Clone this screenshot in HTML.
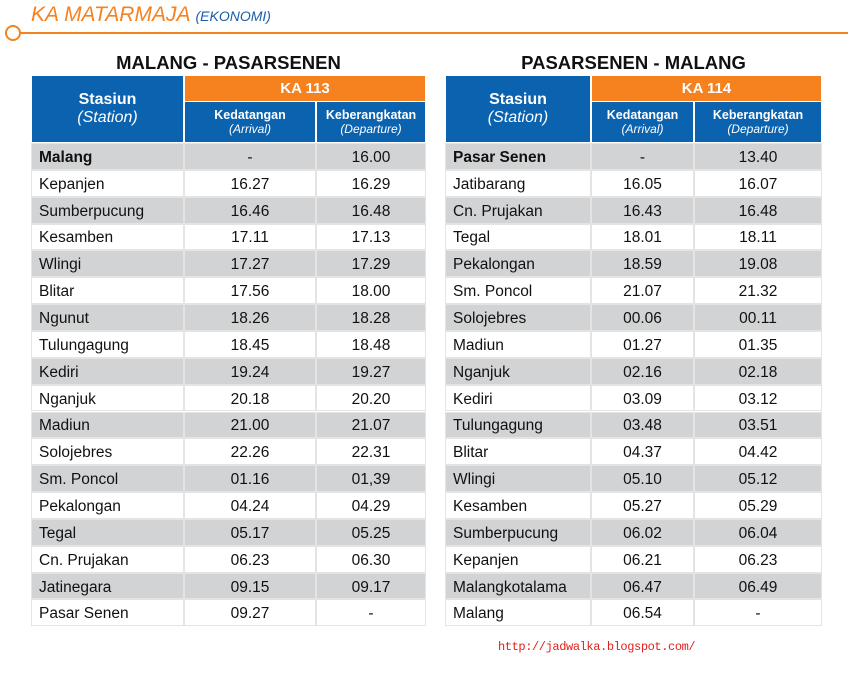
<!DOCTYPE html>
<html><head><meta charset="utf-8"><style>
body{margin:0;width:848px;height:673px;background:#fff;position:relative;overflow:hidden;font-family:"Liberation Sans",sans-serif}
.a{position:absolute;box-sizing:border-box}
.c{position:absolute;box-sizing:border-box;border:1px solid #e4e4e4;display:flex;align-items:center;font-size:15.5px;color:#111}
.h{color:#fff;justify-content:center;flex-direction:column;text-align:center;border-color:#fff}
</style></head><body>
<div class="a" style="left:31px;top:3px;font-size:21px;font-style:italic;color:#f5821f;white-space:nowrap">KA MATARMAJA <span style="font-size:14px;color:#1a5ea8">(EKONOMI)</span></div>
<div class="a" style="left:20px;top:32px;width:828px;height:2px;background:#f5821f"></div>
<div class="a" style="left:5px;top:25px;width:16px;height:16px;border:2.5px solid #f5821f;border-radius:50%"></div>
<div id="root"></div>
<div class="a" style="left:498px;top:640px;font-family:'Liberation Mono',monospace;font-size:12px;letter-spacing:-0.4px;color:#e0201c">http://jadwalka.blogspot.com/</div>
<script>
const leftStations=["Malang","Kepanjen","Sumberpucung","Kesamben","Wlingi","Blitar","Ngunut","Tulungagung","Kediri","Nganjuk","Madiun","Solojebres","Sm. Poncol","Pekalongan","Tegal","Cn. Prujakan","Jatinegara","Pasar Senen"];
const leftArr=["-","16.27","16.46","17.11","17.27","17.56","18.26","18.45","19.24","20.18","21.00","22.26","01.16","04.24","05.17","06.23","09.15","09.27"];
const leftDep=["16.00","16.29","16.48","17.13","17.29","18.00","18.28","18.48","19.27","20.20","21.07","22.31","01,39","04.29","05.25","06.30","09.17","-"];
const rightStations=["Pasar Senen","Jatibarang","Cn. Prujakan","Tegal","Pekalongan","Sm. Poncol","Solojebres","Madiun","Nganjuk","Kediri","Tulungagung","Blitar","Wlingi","Kesamben","Sumberpucung","Kepanjen","Malangkotalama","Malang"];
const rightArr=["-","16.05","16.43","18.01","18.59","21.07","00.06","01.27","02.16","03.09","03.48","04.37","05.10","05.27","06.02","06.21","06.47","06.54"];
const rightDep=["13.40","16.07","16.48","18.11","19.08","21.32","00.11","01.35","02.18","03.12","03.51","04.42","05.12","05.29","06.04","06.23","06.49","-"];
const root=document.getElementById('root');
function cell(x,y,w,h,html,cls,name,style){
  const d=document.createElement('div');
  d.className='c '+(cls||'');
  d.style.cssText=`left:${x}px;top:${y}px;width:${w}px;height:${h}px;`+(style||'');
  d.innerHTML=html;
  
  
  root.appendChild(d);
}
function table(x0,cols,title,train,st,arr,dep,prefix){
  const [w0,w1,w2]=cols;
  const t=document.createElement('div');
  t.className='a';
  t.style.cssText=`left:${x0}px;top:52px;width:${w0+w1+w2}px;text-align:center;font-weight:bold;font-size:18.5px;color:#111`;
  t.textContent=title;
  
  
  root.appendChild(t);
  cell(x0,75,w0,68,'<b style="font-size:16px">Stasiun</b><i style="font-size:16px">(Station)</i>','h',prefix+'-station-header','background:#0b62ae;');
  cell(x0+w0,75,w1+w2,27,'<b style="font-size:15px">'+train+'</b>','h',prefix+'-train-header','background:#f5821f;');
  cell(x0+w0,101,w1,42,'<b style="font-size:12.5px">Kedatangan</b><i style="font-size:12px">(Arrival)</i>','h',prefix+'-arrival-header','background:#0b62ae;');
  cell(x0+w0+w1,101,w2,42,'<b style="font-size:12.5px">Keberangkatan</b><i style="font-size:12px">(Departure)</i>','h',prefix+'-departure-header','background:#0b62ae;');
  const rh=26.85;
  st.forEach((s,i)=>{
    const y=143+i*rh, bg=(i%2===0?'background:#d1d3d4;':'background:#fff;')+'padding-top:3px;';
    cell(x0,y,w0,rh,s,'',prefix+'-station-'+i,bg+'padding-left:7px;'+(i===0?'font-weight:bold;':''));
    cell(x0+w0,y,w1,rh,arr[i],'',prefix+'-arrival-'+i,bg+'justify-content:center;');
    cell(x0+w0+w1,y,w2,rh,dep[i],'',prefix+'-departure-'+i,bg+'justify-content:center;');
  });
}
table(31,[153,132,110],'MALANG - PASARSENEN','KA 113',leftStations,leftArr,leftDep,'left');
table(445,[146,103,128],'PASARSENEN - MALANG','KA 114',rightStations,rightArr,rightDep,'right');
</script>
</body></html>
